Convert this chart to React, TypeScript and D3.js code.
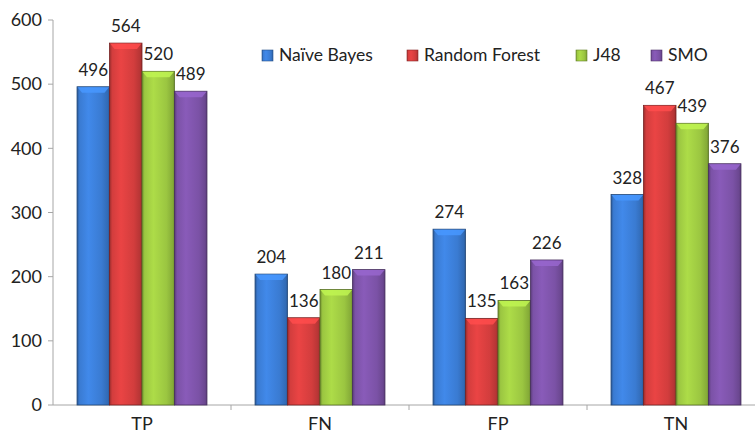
import React from "react";
import * as d3 from "d3";

const categories = ["TP", "FN", "FP", "TN"];
const seriesNames = ["Naïve Bayes", "Random Forest", "J48", "SMO"];
const naiveBayes = [496, 204, 274, 328];
const randomForest = [564, 136, 135, 467];
const j48 = [520, 180, 163, 439];
const smo = [489, 211, 226, 376];
const yTicks = [0, 100, 200, 300, 400, 500, 600];

const seriesValues = [naiveBayes, randomForest, j48, smo];
const baseColors = ["#3a7bd2", "#d23d3d", "#9bc641", "#7b52a6"];

const W = 755;
const H = 433;
const left = 53;
const top = 20;
const bottom = 405;
const rightEnd = 765;

export default function App() {
  const y = d3.scaleLinear().domain([0, 600]).range([bottom, top]);
  const x0 = d3.scaleBand().domain(categories).range([left, rightEnd]).paddingInner(0.27).paddingOuter(0.135);
  const x1 = d3.scaleBand().domain(seriesNames).range([0, x0.bandwidth()]).padding(0);
  const font = "Lato, 'Open Sans', sans-serif";

  const legendX = [262, 407, 576, 651];

  return (
    <div style={{ position: "absolute", left: 0, top: 0 }}>
      <svg width={W} height={H} style={{ display: "block", background: "#fff" }}>
        <defs>
          {baseColors.map((c, i) => {
            const col = d3.color(c)!;
            const dark = d3.color(c)!.darker(0.9).formatHex();
            const light = d3.color(c)!.brighter(0.3).formatHex();
            return (
              <linearGradient key={i} id={`g${i}`} x1="0" x2="1" y1="0" y2="0">
                <stop offset="0%" stopColor={dark} />
                <stop offset="8%" stopColor={col.formatHex()} />
                <stop offset="35%" stopColor={light} />
                <stop offset="75%" stopColor={col.formatHex()} />
                <stop offset="94%" stopColor={d3.color(c)!.darker(0.4).formatHex()} />
                <stop offset="100%" stopColor={dark} />
              </linearGradient>
            );
          })}
        </defs>

        {/* y axis */}
        <line x1={left} x2={left} y1={top} y2={bottom} stroke="#a6a6a6" />
        {yTicks.map((t) => (
          <g key={t}>
            <line x1={left - 5} x2={left} y1={y(t)} y2={y(t)} stroke="#a6a6a6" />
            <text x={left - 11} y={y(t)} dy="0.35em" textAnchor="end" fontSize={18} fontFamily={font} fill="#222">
              {t}
            </text>
          </g>
        ))}

        {/* x axis */}
        <line x1={left} x2={W} y1={bottom} y2={bottom} stroke="#a6a6a6" />
        {categories.map((c, i) => {
          const bx = x0(c)! - (x0.step() - x0.bandwidth()) / 2;
          return (
            <g key={c}>
              {i > 0 && <line x1={bx} x2={bx} y1={bottom} y2={bottom + 5} stroke="#a6a6a6" />}
              <text x={x0(c)! + x0.bandwidth() / 2} y={430} textAnchor="middle" fontSize={18} fontFamily={font} fill="#222">
                {c}
              </text>
            </g>
          );
        })}

        {/* bars */}
        {categories.map((c, ci) => (
          <g key={c} transform={`translate(${x0(c)},0)`}>
            {seriesNames.map((s, si) => {
              const v = seriesValues[si][ci];
              const bx = x1(s)!;
              const bw = x1.bandwidth();
              const by = y(v);
              const bh = bottom - by;
              const bev = 5;
              return (
                <g key={s}>
                  <rect x={bx} y={by} width={bw} height={bh} fill={`url(#g${si})`} stroke={d3.color(baseColors[si])!.darker(1.6).formatHex()} strokeWidth={0.8} />
                  <polygon
                    points={`${bx + 0.5},${by + 0.5} ${bx + bw - 0.5},${by + 0.5} ${bx + bw - bev},${by + bev + 1} ${bx + bev},${by + bev + 1}`}
                    fill={d3.color(baseColors[si])!.brighter(0.6).formatHex()}
                    opacity={0.85}
                  />
                  <text x={bx + bw / 2} y={by - 11} textAnchor="middle" fontSize={17} fontFamily={font} fill="#222">
                    {v}
                  </text>
                </g>
              );
            })}
          </g>
        ))}

        {/* legend */}
        {seriesNames.map((s, i) => (
          <g key={s}>
            <rect x={legendX[i]} y={50} width={11} height={11} fill={`url(#g${i})`} stroke={d3.color(baseColors[i])!.darker(1.2).formatHex()} strokeWidth={0.6} />
            <text x={legendX[i] + 17} y={61} fontSize={17.5} fontFamily={font} fill="#222">
              {s}
            </text>
          </g>
        ))}
      </svg>
    </div>
  );
}
